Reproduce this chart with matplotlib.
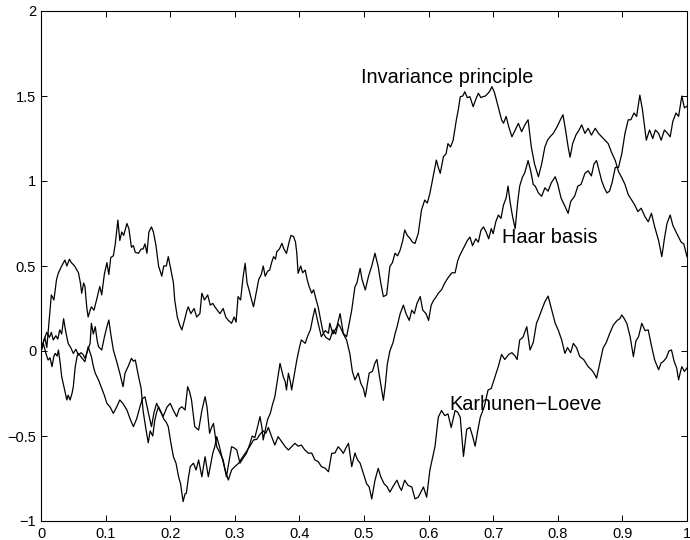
import matplotlib
matplotlib.use('Agg')
import matplotlib.pyplot as plt

plt.rcParams['font.family'] = ['Liberation Sans', 'DejaVu Sans']

# Values (t, W(t)) for the three sample paths
haar_t = [0, 0.006, 0.009, 0.012, 0.016, 0.020, 0.024, 0.027, 0.032, 0.037, 0.040, 0.044, 0.047, 0.052,
          0.055, 0.058, 0.061, 0.063, 0.066, 0.068, 0.071, 0.073, 0.076, 0.078, 0.082, 0.086, 0.091, 0.094,
          0.098, 0.102, 0.105, 0.108, 0.112, 0.115, 0.119, 0.122, 0.125, 0.128, 0.133, 0.136, 0.140, 0.143,
          0.146, 0.151, 0.155, 0.158, 0.161, 0.164, 0.167, 0.171, 0.174, 0.178, 0.182, 0.187, 0.190, 0.194,
          0.197, 0.201, 0.205, 0.207, 0.211, 0.215, 0.218, 0.222, 0.226, 0.228, 0.232, 0.237, 0.241, 0.246,
          0.249, 0.253, 0.258, 0.262, 0.266, 0.269, 0.273, 0.277, 0.282, 0.286, 0.290, 0.295, 0.299, 0.302,
          0.305, 0.309, 0.313, 0.316, 0.319, 0.322, 0.326, 0.329, 0.331, 0.334, 0.337, 0.341, 0.344, 0.347,
          0.351, 0.354, 0.357, 0.360, 0.363, 0.365, 0.369, 0.373, 0.376, 0.380, 0.384, 0.387, 0.391, 0.394,
          0.396, 0.398, 0.402, 0.405, 0.409, 0.412, 0.415, 0.419, 0.422, 0.426, 0.429, 0.433, 0.437, 0.441,
          0.447, 0.450, 0.452, 0.456, 0.460, 0.463, 0.468, 0.473, 0.478, 0.482, 0.486, 0.491, 0.495, 0.499,
          0.502, 0.505, 0.508, 0.513, 0.517, 0.520, 0.524, 0.527, 0.530, 0.533, 0.536, 0.540, 0.545, 0.548,
          0.551, 0.556, 0.561, 0.565, 0.570, 0.574, 0.578, 0.582, 0.587, 0.591, 0.596, 0.600, 0.604, 0.608,
          0.612, 0.615, 0.620, 0.625, 0.630, 0.636, 0.641, 0.645, 0.648, 0.652, 0.656, 0.660, 0.664, 0.668,
          0.673, 0.677, 0.681, 0.685, 0.689, 0.693, 0.697, 0.700, 0.704, 0.708, 0.712, 0.716, 0.720, 0.723,
          0.726, 0.730, 0.734, 0.738, 0.741, 0.745, 0.749, 0.754, 0.758, 0.762, 0.765, 0.770, 0.775, 0.780,
          0.785, 0.790, 0.796, 0.800, 0.805, 0.810, 0.816, 0.820, 0.826, 0.831, 0.836, 0.842, 0.847, 0.852,
          0.856, 0.860, 0.864, 0.868, 0.872, 0.876, 0.880, 0.884, 0.889, 0.894, 0.899, 0.904, 0.909, 0.913,
          0.918, 0.922, 0.927, 0.931, 0.934, 0.937, 0.942, 0.947, 0.951, 0.956, 0.960, 0.965, 0.970, 0.974,
          0.978, 0.983, 0.987, 0.992, 0.996, 1.0]
haar_w = [0.0, 0.08, 0.02, 0.15, 0.33, 0.30, 0.42, 0.46, 0.50, 0.535, 0.50, 0.54, 0.52, 0.50,
          0.48, 0.46, 0.40, 0.34, 0.40, 0.38, 0.25, 0.20, 0.24, 0.26, 0.24, 0.30, 0.38, 0.33,
          0.45, 0.52, 0.45, 0.55, 0.56, 0.63, 0.77, 0.65, 0.70, 0.68, 0.75, 0.72, 0.61, 0.62,
          0.58, 0.575, 0.60, 0.60, 0.63, 0.575, 0.70, 0.73, 0.70, 0.62, 0.50, 0.44, 0.50, 0.50,
          0.555, 0.48, 0.40, 0.30, 0.20, 0.15, 0.124, 0.18, 0.24, 0.26, 0.22, 0.25, 0.20, 0.22,
          0.34, 0.30, 0.33, 0.27, 0.28, 0.26, 0.24, 0.22, 0.25, 0.20, 0.18, 0.163, 0.20, 0.17,
          0.32, 0.30, 0.44, 0.516, 0.40, 0.36, 0.30, 0.26, 0.30, 0.36, 0.42, 0.45, 0.50, 0.44,
          0.47, 0.476, 0.52, 0.555, 0.54, 0.584, 0.60, 0.633, 0.60, 0.574, 0.64, 0.68, 0.673, 0.64,
          0.574, 0.457, 0.50, 0.46, 0.476, 0.42, 0.38, 0.34, 0.36, 0.30, 0.26, 0.18, 0.104, 0.08,
          0.065, 0.10, 0.124, 0.10, 0.16, 0.143, 0.10, 0.065, -0.014, -0.12, -0.17, -0.13, -0.19, -0.22,
          -0.27, -0.20, -0.13, -0.12, -0.07, -0.05, -0.15, -0.22, -0.29, -0.20, -0.08, 0.0, 0.05, 0.10,
          0.14, 0.22, 0.27, 0.22, 0.18, 0.24, 0.22, 0.28, 0.32, 0.24, 0.22, 0.18, 0.27, 0.30,
          0.32, 0.34, 0.36, 0.40, 0.43, 0.46, 0.46, 0.53, 0.56, 0.59, 0.62, 0.65, 0.67, 0.62,
          0.66, 0.64, 0.71, 0.73, 0.70, 0.66, 0.72, 0.69, 0.76, 0.80, 0.78, 0.86, 0.90, 0.97,
          0.88, 0.79, 0.72, 0.88, 0.97, 1.02, 1.05, 1.12, 1.06, 0.98, 0.97, 0.93, 0.91, 0.96,
          0.94, 0.99, 1.025, 0.98, 0.90, 0.86, 0.81, 0.88, 0.91, 0.97, 0.98, 1.045, 1.06, 1.03,
          1.10, 1.12, 1.06, 1.00, 0.96, 0.93, 0.94, 0.99, 1.08, 1.08, 1.16, 1.28, 1.36, 1.36,
          1.40, 1.38, 1.505, 1.42, 1.33, 1.24, 1.30, 1.25, 1.30, 1.28, 1.24, 1.30, 1.28, 1.26,
          1.35, 1.40, 1.38, 1.50, 1.43, 1.44]

kl_t = [0, 0.004, 0.009, 0.013, 0.016, 0.019, 0.023, 0.026, 0.029, 0.032, 0.035, 0.038, 0.042, 0.046,
        0.050, 0.054, 0.058, 0.062, 0.065, 0.068, 0.072, 0.076, 0.078, 0.081, 0.084, 0.087, 0.089, 0.094,
        0.098, 0.102, 0.105, 0.108, 0.112, 0.117, 0.122, 0.127, 0.130, 0.135, 0.140, 0.143, 0.146, 0.151,
        0.155, 0.158, 0.162, 0.166, 0.169, 0.173, 0.176, 0.179, 0.182, 0.186, 0.190, 0.194, 0.197, 0.201,
        0.205, 0.209, 0.213, 0.216, 0.220, 0.223, 0.225, 0.228, 0.231, 0.236, 0.240, 0.244, 0.249, 0.254,
        0.259, 0.263, 0.266, 0.269, 0.272, 0.276, 0.280, 0.285, 0.290, 0.295, 0.300, 0.306, 0.311, 0.316,
        0.320, 0.325, 0.329, 0.334, 0.339, 0.344, 0.348, 0.352, 0.357, 0.362, 0.367, 0.372, 0.378, 0.383,
        0.388, 0.393, 0.398, 0.403, 0.408, 0.414, 0.419, 0.424, 0.429, 0.434, 0.440, 0.445, 0.450, 0.455,
        0.460, 0.464, 0.468, 0.472, 0.476, 0.481, 0.486, 0.490, 0.494, 0.499, 0.504, 0.508, 0.512, 0.517,
        0.522, 0.526, 0.531, 0.536, 0.540, 0.546, 0.551, 0.555, 0.558, 0.563, 0.568, 0.574, 0.579, 0.584,
        0.588, 0.592, 0.597, 0.602, 0.606, 0.610, 0.615, 0.620, 0.625, 0.630, 0.635, 0.641, 0.645, 0.649,
        0.654, 0.659, 0.664, 0.668, 0.672, 0.676, 0.680, 0.686, 0.692, 0.697, 0.702, 0.708, 0.713, 0.718,
        0.724, 0.729, 0.734, 0.737, 0.741, 0.746, 0.752, 0.757, 0.762, 0.767, 0.771, 0.775, 0.780, 0.785,
        0.790, 0.796, 0.801, 0.806, 0.811, 0.815, 0.820, 0.824, 0.829, 0.834, 0.840, 0.847, 0.852, 0.856,
        0.860, 0.865, 0.870, 0.875, 0.880, 0.886, 0.892, 0.896, 0.899, 0.903, 0.907, 0.912, 0.917, 0.921,
        0.925, 0.930, 0.935, 0.940, 0.945, 0.950, 0.956, 0.960, 0.963, 0.968, 0.972, 0.976, 0.980, 0.984,
        0.987, 0.990, 0.992, 0.996, 1.0]
kl_w = [0.0, 0.06, 0.11, 0.08, 0.11, 0.065, 0.09, 0.07, 0.124, 0.10, 0.19, 0.12, 0.045, 0.02,
        -0.014, 0.01, -0.024, -0.01, -0.02, -0.043, 0.0, 0.045, 0.163, 0.10, 0.143, 0.06, 0.025, 0.006,
        0.08, 0.143, 0.182, 0.10, 0.006, -0.06, -0.131, -0.21, -0.131, -0.09, -0.043, -0.06, -0.053, -0.15,
        -0.22, -0.35, -0.45, -0.54, -0.47, -0.50, -0.41, -0.36, -0.328, -0.36, -0.40, -0.42, -0.445, -0.54,
        -0.622, -0.66, -0.74, -0.78, -0.886, -0.84, -0.837, -0.75, -0.68, -0.66, -0.70, -0.641, -0.74, -0.622,
        -0.74, -0.66, -0.60, -0.563, -0.504, -0.56, -0.622, -0.70, -0.759, -0.70, -0.68, -0.66, -0.63, -0.602,
        -0.58, -0.55, -0.523, -0.52, -0.49, -0.47, -0.484, -0.45, -0.504, -0.553, -0.504, -0.53, -0.563, -0.582,
        -0.563, -0.543, -0.56, -0.553, -0.58, -0.602, -0.60, -0.641, -0.65, -0.68, -0.69, -0.71, -0.602, -0.60,
        -0.563, -0.58, -0.602, -0.57, -0.543, -0.68, -0.60, -0.64, -0.66, -0.72, -0.78, -0.80, -0.87, -0.76,
        -0.69, -0.74, -0.78, -0.80, -0.83, -0.79, -0.76, -0.80, -0.82, -0.76, -0.79, -0.80, -0.87, -0.86,
        -0.83, -0.80, -0.86, -0.70, -0.63, -0.56, -0.39, -0.35, -0.38, -0.37, -0.45, -0.35, -0.36, -0.39,
        -0.62, -0.46, -0.45, -0.50, -0.56, -0.47, -0.39, -0.33, -0.23, -0.22, -0.16, -0.09, -0.02, -0.05,
        -0.02, -0.01, -0.03, -0.05, 0.065, 0.08, 0.143, 0.006, 0.05, 0.163, 0.20, 0.241, 0.29, 0.323,
        0.25, 0.163, 0.12, 0.065, -0.014, 0.02, -0.01, 0.045, 0.02, -0.033, -0.05, -0.092, -0.11, -0.13,
        -0.16, -0.072, 0.016, 0.05, 0.10, 0.153, 0.18, 0.19, 0.212, 0.19, 0.16, 0.084, -0.033, 0.06,
        0.084, 0.163, 0.12, 0.124, 0.03, -0.053, -0.11, -0.07, -0.063, -0.04, 0.0, 0.006, -0.06, -0.10,
        -0.17, -0.12, -0.092, -0.12, -0.10]

inv_t = [0, 0.004, 0.008, 0.011, 0.014, 0.017, 0.020, 0.022, 0.025, 0.027, 0.030, 0.032, 0.036, 0.040,
         0.042, 0.045, 0.048, 0.050, 0.053, 0.056, 0.058, 0.063, 0.068, 0.071, 0.073, 0.076, 0.078, 0.081,
         0.084, 0.089, 0.094, 0.098, 0.102, 0.107, 0.112, 0.117, 0.122, 0.127, 0.133, 0.138, 0.143, 0.148,
         0.153, 0.157, 0.161, 0.166, 0.171, 0.175, 0.179, 0.184, 0.189, 0.195, 0.200, 0.205, 0.210, 0.214,
         0.218, 0.223, 0.227, 0.230, 0.233, 0.236, 0.238, 0.244, 0.249, 0.254, 0.257, 0.259, 0.261, 0.264,
         0.267, 0.272, 0.277, 0.282, 0.287, 0.291, 0.295, 0.299, 0.303, 0.308, 0.313, 0.318, 0.323, 0.327,
         0.331, 0.335, 0.339, 0.342, 0.344, 0.348, 0.351, 0.355, 0.358, 0.362, 0.366, 0.370, 0.375, 0.378,
         0.380, 0.383, 0.386, 0.388, 0.392, 0.396, 0.400, 0.403, 0.409, 0.413, 0.417, 0.421, 0.424, 0.429,
         0.434, 0.440, 0.445, 0.447, 0.452, 0.458, 0.463, 0.468, 0.473, 0.477, 0.481, 0.486, 0.489, 0.494,
         0.497, 0.502, 0.507, 0.512, 0.517, 0.522, 0.526, 0.530, 0.535, 0.540, 0.544, 0.548, 0.552, 0.556,
         0.560, 0.563, 0.567, 0.571, 0.575, 0.579, 0.584, 0.589, 0.594, 0.598, 0.602, 0.607, 0.612, 0.615,
         0.618, 0.623, 0.627, 0.630, 0.634, 0.638, 0.643, 0.646, 0.649, 0.653, 0.656, 0.660, 0.664, 0.667,
         0.669, 0.673, 0.677, 0.681, 0.684, 0.688, 0.692, 0.695, 0.698, 0.702, 0.705, 0.709, 0.713, 0.716,
         0.720, 0.724, 0.729, 0.734, 0.739, 0.744, 0.749, 0.754, 0.759, 0.764, 0.770, 0.775, 0.780, 0.784,
         0.788, 0.793, 0.799, 0.804, 0.808, 0.812, 0.816, 0.819, 0.823, 0.828, 0.833, 0.837, 0.842, 0.847,
         0.852, 0.858, 0.863, 0.868, 0.873, 0.878, 0.883, 0.889, 0.894, 0.899, 0.904, 0.909, 0.914, 0.919,
         0.924, 0.929, 0.935, 0.940, 0.945, 0.950, 0.956, 0.961, 0.965, 0.969, 0.974, 0.978, 0.983, 0.987,
         0.991, 0.995, 1.0]
inv_w = [0.0, 0.04, -0.02, -0.053, -0.04, -0.092, -0.03, -0.014, -0.03, 0.006, -0.08, -0.15, -0.22, -0.288,
         -0.26, -0.288, -0.25, -0.21, -0.092, -0.03, -0.014, -0.04, -0.063, -0.01, 0.025, -0.01, -0.033, -0.09,
         -0.131, -0.17, -0.22, -0.26, -0.308, -0.33, -0.367, -0.33, -0.288, -0.31, -0.347, -0.40, -0.445, -0.40,
         -0.33, -0.28, -0.27, -0.36, -0.445, -0.36, -0.308, -0.35, -0.386, -0.33, -0.308, -0.35, -0.386, -0.34,
         -0.328, -0.347, -0.21, -0.24, -0.288, -0.38, -0.445, -0.465, -0.35, -0.269, -0.33, -0.406, -0.484, -0.45,
         -0.426, -0.563, -0.60, -0.641, -0.74, -0.65, -0.563, -0.57, -0.582, -0.66, -0.63, -0.602, -0.55, -0.50,
         -0.51, -0.45, -0.386, -0.45, -0.523, -0.45, -0.40, -0.367, -0.32, -0.269, -0.17, -0.073, -0.151, -0.18,
         -0.229, -0.131, -0.18, -0.229, -0.14, -0.053, 0.02, 0.065, 0.045, 0.09, 0.124, 0.20, 0.251, 0.163,
         0.084, 0.12, 0.104, 0.163, 0.10, 0.143, 0.22, 0.104, 0.084, 0.16, 0.241, 0.378, 0.40, 0.486,
         0.42, 0.359, 0.44, 0.50, 0.575, 0.496, 0.40, 0.32, 0.33, 0.496, 0.52, 0.575, 0.56, 0.594,
         0.65, 0.712, 0.68, 0.663, 0.64, 0.633, 0.692, 0.829, 0.888, 0.87, 0.927, 1.025, 1.123, 1.08,
         1.045, 1.143, 1.16, 1.22, 1.20, 1.24, 1.36, 1.42, 1.496, 1.50, 1.525, 1.49, 1.496, 1.46,
         1.437, 1.48, 1.516, 1.49, 1.496, 1.50, 1.516, 1.53, 1.555, 1.52, 1.477, 1.42, 1.36, 1.34,
         1.38, 1.32, 1.26, 1.30, 1.339, 1.29, 1.33, 1.36, 1.20, 1.10, 1.025, 1.10, 1.20, 1.24,
         1.26, 1.28, 1.32, 1.36, 1.39, 1.30, 1.20, 1.14, 1.22, 1.27, 1.30, 1.33, 1.28, 1.31,
         1.27, 1.31, 1.28, 1.26, 1.24, 1.22, 1.17, 1.12, 1.055, 1.02, 0.98, 0.92, 0.89, 0.86,
         0.82, 0.84, 0.79, 0.76, 0.81, 0.73, 0.65, 0.555, 0.66, 0.75, 0.80, 0.74, 0.70, 0.67,
         0.64, 0.63, 0.555]

xticks = [0, 0.1, 0.2, 0.3, 0.4, 0.5, 0.6, 0.7, 0.8, 0.9, 1]
xtick_labels = ['0', '0.1', '0.2', '0.3', '0.4', '0.5', '0.6', '0.7', '0.8', '0.9', '1']
yticks = [-1, -0.5, 0, 0.5, 1, 1.5, 2]
ytick_labels = ['\u22121', '\u22120.5', '0', '0.5', '1', '1.5', '2']

fig = plt.figure(figsize=(6.9, 5.4), dpi=100)
ax = fig.add_axes([41 / 690, 19 / 540, 646 / 690, 510 / 540])

for t, w in [(haar_t, haar_w), (kl_t, kl_w), (inv_t, inv_w)]:
    ax.plot(t, w, color='black', lw=0.9)

# path labels, baseline placed as in the reference
ax.text(0.496, 1.576, 'Invariance principle', fontsize=14.3, va='baseline')
ax.text(0.714, 0.635, 'Haar basis', fontsize=14.3, va='baseline')
ax.text(0.632, -0.347, 'Karhunen\u2212Loeve', fontsize=14.3, va='baseline')

ax.set_xlim(0, 1)
ax.set_ylim(-1, 2)
ax.set_xticks(xticks)
ax.set_xticklabels(xtick_labels)
ax.set_yticks(yticks)
ax.set_yticklabels(ytick_labels)
ax.tick_params(direction='in', length=4, width=0.7, labelsize=10.5,
               top=True, right=True)
ax.tick_params(axis='x', pad=4)
ax.tick_params(axis='y', pad=3.5)
for s in ax.spines.values():
    s.set_linewidth(0.8)

fig.savefig('out.png', dpi=100)
